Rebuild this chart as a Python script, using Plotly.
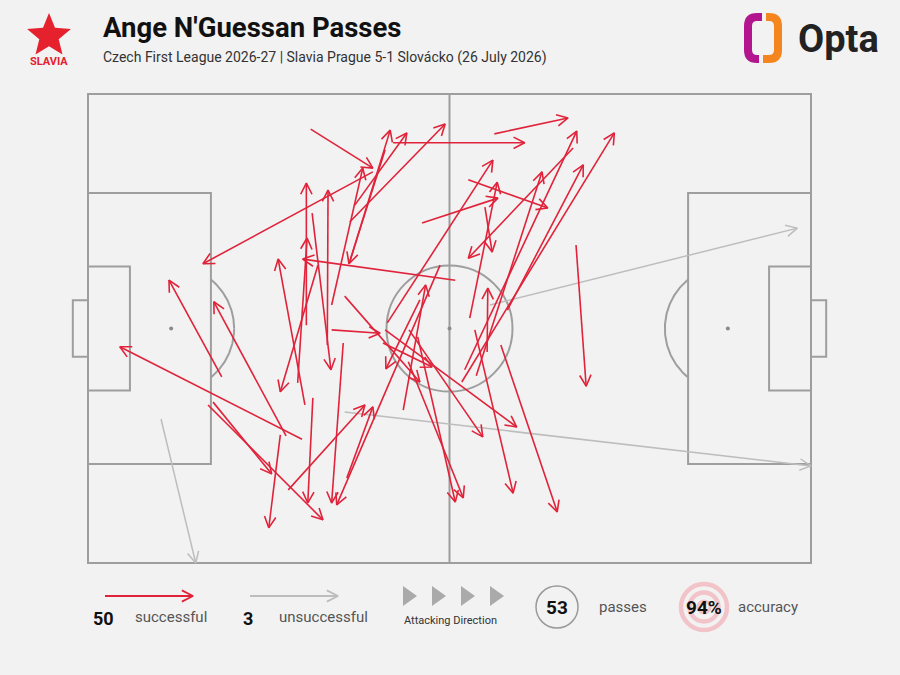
import numpy as np
import plotly.graph_objects as go

W, H = 900, 675
# pitch frame in pixels (Opta 0-100 coordinates)
PX0, PX1 = 88, 811
PY0, PY1 = 94, 563
XPAD, YPAD = 4, 3

# ---- data: successful passes (Opta x 0-100 attacking right, y 0-100 bottom->top)
succ_x0 = [30.8, 39.4, 42.2, 36.2, 36.9, 36.2, 33.7, 41.1, 30.2, 33.1,
           29.0, 50.8, 30.0, 18.5, 27.4, 29.6, 17.3, 16.6, 26.6, 31.1,
           35.3, 48.7, 27.7, 35.8, 31.8, 31.0, 33.7, 45.9, 43.6, 35.5,
           40.8, 41.1, 44.4, 45.6, 44.3, 53.5, 57.1, 67.5, 56.2, 52.1,
           58.0, 51.7, 53.7, 67.1, 41.4, 52.8, 52.6, 46.2, 54.9, 55.2]
succ_y0 = [92.5, 83.4, 89.6, 64.2, 76.3, 72.7, 55.0, 88.1, 50.7, 46.5,
           38.4, 60.3, 33.7, 39.7, 27.1, 26.4, 34.3, 33.7, 27.3, 35.2,
           46.9, 63.5, 15.6, 18.1, 63.5, 74.6, 49.7, 56.1, 32.6, 56.9,
           46.9, 49.7, 49.7, 48.2, 42.9, 49.7, 46.5, 67.8, 91.5, 41.2,
           53.9, 38.6, 39.9, 88.5, 51.2, 52.2, 81.7, 72.5, 75.9, 45.0]
succ_x1 = [39.4, 15.9, 60.4, 41.8, 44.1, 49.4, 38.0, 36.1, 30.2, 33.2,
           30.3, 29.7, 26.3, 11.2, 17.4, 4.4, 25.4, 32.5, 25.0, 30.4,
           33.7, 34.4, 38.3, 39.4, 26.6, 33.6, 40.4, 41.2, 46.7, 45.9,
           47.6, 59.3, 54.6, 50.8, 51.9, 58.8, 64.9, 68.9, 66.4, 67.6,
           68.5, 72.8, 62.8, 52.6, 56.0, 56.6, 63.6, 56.7, 55.9, 55.3]
succ_y1 = [84.2, 63.8, 89.6, 92.3, 91.7, 93.6, 84.2, 63.8, 81.0, 79.5,
           69.3, 64.8, 64.8, 60.3, 55.7, 46.1, 19.0, 9.2, 7.5, 12.8,
           12.8, 12.4, 33.7, 33.3, 36.5, 41.2, 49.0, 41.4, 59.3, 38.6,
           41.8, 29.0, 26.9, 13.0, 13.9, 14.9, 10.9, 37.7, 94.9, 92.1,
           84.9, 91.7, 83.4, 65.0, 85.9, 81.2, 75.7, 77.8, 66.3, 58.6]

# ---- data: unsuccessful passes
fail_x0 = [55.6, 35.5, 10.1]
fail_y0 = [55.0, 32.2, 30.7]
fail_x1 = [98.1, 100.0, 14.9]
fail_y1 = [71.4, 20.7, 0.0]

# ---- summary values
n_success = len(succ_x0)
n_fail = len(fail_x0)
n_total = n_success + n_fail
accuracy = round(100 * n_success / n_total)

title = "Ange N'Guessan Passes"
subtitle = "Czech First League 2026-27 | Slavia Prague 5-1 Slovácko (26 July 2026)"

RED = "#e0233a"
GREY_ARROW = "#bdbdbd"
LINE = "#9e9e9e"
BG = "#f2f2f2"
FONT = "Roboto"

sx = (PX1 - PX0) / 100.0
sy = (PY1 - PY0) / 100.0


def arrow_xy(x0, y0, x1, y1, kx, ky, L=12.5, ang=27.0):
    """Build line + open V arrowhead coordinates (head size in pixels)."""
    xs, ys = [], []
    a = np.radians(ang)
    for a0, b0, a1, b1 in zip(x0, y0, x1, y1):
        dx, dy = (a1 - a0) * kx, (b1 - b0) * ky
        n = np.hypot(dx, dy)
        bx, by = -dx / n, -dy / n
        arms = []
        for s in (a, -a):
            rx = bx * np.cos(s) - by * np.sin(s)
            ry = bx * np.sin(s) + by * np.cos(s)
            arms.append((a1 + L * rx / kx, b1 + L * ry / ky))
        xs += [a0, a1, None, arms[0][0], a1, arms[1][0], None]
        ys += [b0, b1, None, arms[0][1], b1, arms[1][1], None]
    return xs, ys


fig = go.Figure()

# ---------------- pitch markings ----------------
shapes = []
def rect(x0, y0, x1, y1):
    shapes.append(dict(type="rect", xref="x", yref="y", x0=x0, y0=y0, x1=x1, y1=y1,
                       line=dict(color=LINE, width=2), layer="below"))

rect(0, 0, 100, 100)
shapes.append(dict(type="line", xref="x", yref="y", x0=50, x1=50, y0=0, y1=100,
                   line=dict(color=LINE, width=2), layer="below"))
for side in (0, 1):
    def fx(v):
        return v if side == 0 else 100 - v
    rect(fx(0), 21.1, fx(17), 78.9)
    rect(fx(0), 36.8, fx(5.8), 63.2)
    rect(fx(0), 44.0, fx(-2.1), 56.0)

rcx = 9.15 / 105 * 100
rcy = 9.15 / 68 * 100
shapes.append(dict(type="circle", xref="x", yref="y", x0=50 - rcx, x1=50 + rcx,
                   y0=50 - rcy, y1=50 + rcy, line=dict(color=LINE, width=2), layer="below"))

# penalty arcs
t = np.linspace(0, 2 * np.pi, 721)
for spot, sign in ((11.5, 1), (88.5, -1)):
    ax = spot + rcx * np.cos(t)
    ay = 50 + rcy * np.sin(t)
    mask = ax > 17 if sign == 1 else ax < 83
    ax = np.where(mask, ax, np.nan)
    ay = np.where(mask, ay, np.nan)
    fig.add_trace(go.Scatter(x=ax, y=ay, mode="lines", line=dict(color=LINE, width=2),
                             hoverinfo="skip", showlegend=False, connectgaps=False))

fig.add_trace(go.Scatter(x=[11.5, 50, 88.5], y=[50, 50, 50], mode="markers",
                         marker=dict(color="#8a8a8a", size=4), hoverinfo="skip", showlegend=False))

# ---------------- passes ----------------
gx, gy = arrow_xy(fail_x0, fail_y0, fail_x1, fail_y1, sx, sy)
fig.add_trace(go.Scatter(x=gx, y=gy, mode="lines", line=dict(color=GREY_ARROW, width=1.5),
                         hoverinfo="skip", showlegend=False))
rx_, ry_ = arrow_xy(succ_x0, succ_y0, succ_x1, succ_y1, sx, sy)
fig.add_trace(go.Scatter(x=rx_, y=ry_, mode="lines", line=dict(color=RED, width=1.6),
                         hoverinfo="skip", showlegend=False))

# ---------------- legend (pixel axes x2/y2) ----------------
lx, ly = arrow_xy([105], [596], [193], [596], 1, 1, L=12.5)
fig.add_trace(go.Scatter(x=lx, y=ly, mode="lines", line=dict(color=RED, width=1.8),
                         xaxis="x2", yaxis="y2", hoverinfo="skip", showlegend=False))
lx, ly = arrow_xy([250], [596], [338], [596], 1, 1, L=12.5)
fig.add_trace(go.Scatter(x=lx, y=ly, mode="lines", line=dict(color=GREY_ARROW, width=1.8),
                         xaxis="x2", yaxis="y2", hoverinfo="skip", showlegend=False))

for cx in (403, 432, 461, 490):
    shapes.append(dict(type="path", xref="x2", yref="y2",
                       path=f"M {cx},586 L {cx+14},596 L {cx},606 Z",
                       fillcolor="#aaaaaa", line=dict(width=0)))

# passes circle
shapes.append(dict(type="circle", xref="x2", yref="y2", x0=536, x1=578, y0=586, y1=628,
                   line=dict(color="#9a9a9a", width=1.5)))
# accuracy target
for r, w in ((23, 4.5), (14.5, 4.5), (6, 3)):
    shapes.append(dict(type="circle", xref="x2", yref="y2", x0=704 - r, x1=704 + r,
                       y0=607 - r, y1=607 + r, line=dict(color="#f2c3c8", width=w)))

# Slavia star
R, r_in, cxs, cys = 23, 10.2, 49, 36
pts = []
for k in range(10):
    ang = np.radians(-90 + k * 36)
    rr = R if k % 2 == 0 else r_in
    pts.append((cxs + rr * np.cos(ang), cys + rr * np.sin(ang)))
star = "M " + " L ".join(f"{px:.1f},{py:.1f}" for px, py in pts) + " Z"
shapes.append(dict(type="path", xref="x2", yref="y2", path=star,
                   fillcolor="#e4212d", line=dict(width=0)))

# Opta icon
shapes.append(dict(type="path", xref="x2", yref="y2",
                   path="M 762,17 L 757,17 Q 748,17 748,26 L 748,50 Q 748,59 757,59 L 759,59",
                   line=dict(color="#b3158f", width=8)))
shapes.append(dict(type="path", xref="x2", yref="y2",
                   path="M 766,17 L 769,17 Q 778,17 778,26 L 778,50 Q 778,59 769,59 L 763,59",
                   line=dict(color="#f5861f", width=8)))

ann = []
def txt(x, y, s, size, color="#111111", bold=False, xanchor="center", family=FONT):
    ann.append(dict(x=x, y=y, xref="x2", yref="y2", text=f"<b>{s}</b>" if bold else s,
                    showarrow=False, xanchor=xanchor, yanchor="middle",
                    font=dict(size=size, color=color, family=family)))

txt(101, 27, title, 27.5, "#111111", True, "left")
txt(101, 57, subtitle, 14, "#333333", False, "left")
txt(49, 61, "SLAVIA", 11, "#e4212d", True)
txt(796, 39, "Opta", 38, "#222222", True, "left")
txt(103, 618, str(n_success), 18, "#111111", True)
txt(171, 617, "successful", 15, "#555555")
txt(248, 618, str(n_fail), 18, "#111111", True)
txt(323, 617, "unsuccessful", 15, "#555555")
txt(450, 620, "Attacking Direction", 11, "#333333")
txt(557, 607, str(n_total), 19, "#111111", True)
txt(623, 607, "passes", 15, "#555555")
txt(704, 607, f"{accuracy}%", 19, "#111111", True)
txt(768, 607, "accuracy", 15, "#555555")

fig.update_layout(
    width=W, height=H, margin=dict(l=0, r=0, t=0, b=0),
    paper_bgcolor=BG, plot_bgcolor="rgba(0,0,0,0)",
    xaxis=dict(domain=[(PX0 - XPAD * sx) / W, (PX1 + XPAD * sx) / W],
               range=[-XPAD, 100 + XPAD], visible=False, fixedrange=True),
    yaxis=dict(domain=[1 - (PY1 + YPAD * sy) / H, 1 - (PY0 - YPAD * sy) / H],
               range=[-YPAD, 100 + YPAD], visible=False, fixedrange=True),
    xaxis2=dict(domain=[0, 1], range=[0, W], visible=False, anchor="y2", fixedrange=True),
    yaxis2=dict(domain=[0, 1], range=[H, 0], visible=False, anchor="x2", fixedrange=True),
    shapes=shapes, annotations=ann, showlegend=False,
)

fig.write_html("out.html")
